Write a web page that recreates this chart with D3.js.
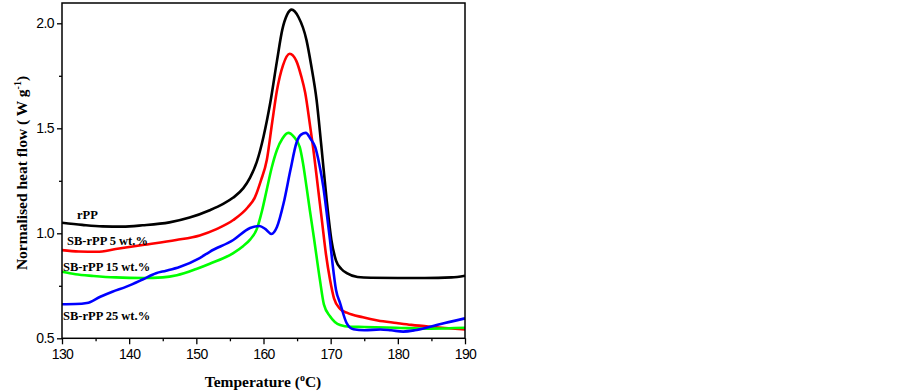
<!DOCTYPE html>
<html>
<head>
<meta charset="utf-8">
<script src="https://cdn.jsdelivr.net/npm/d3@7"></script>
<style>
body { margin: 0; background: #fff; }
.tick-label { font-family: "Liberation Sans", Arial, sans-serif; font-size: 14px; }
.title { font-family: "Liberation Serif", "Times New Roman", serif; font-weight: bold; font-size: 15.5px; }
.series-label { font-family: "Liberation Serif", "Times New Roman", serif; font-weight: bold; font-size: 12.5px; }
</style>
</head>
<body>
<div id="chart"></div>
<script>
// [temperature °C, normalised heat flow W/g]
const rpp = [[130,1.05],[133,1.04],[136,1.033],[139,1.032],[142,1.038],[146,1.052],[149,1.075],[152,1.11],[154,1.14],[155.5,1.17],[157,1.215],[158,1.265],[159,1.34],[160,1.46],[161,1.62],[162,1.82],[162.8,1.97],[163.5,2.04],[164.2,2.065],[165.2,2.03],[166.4,1.92],[167.1,1.8],[167.9,1.636],[168.6,1.42],[169.4,1.16],[170.1,0.97],[170.8,0.87],[171.6,0.83],[172.4,0.81],[174,0.792],[176,0.788],[180,0.787],[184,0.787],[188,0.79],[190,0.798]]

const sb5 = [[130,0.92],[132.5,0.913],[135.2,0.912],[138,0.925],[142,0.944],[147,0.968],[150.5,0.99],[153,1.02],[155.5,1.063],[157.7,1.125],[158.7,1.17],[159.6,1.25],[160.5,1.35],[161.3,1.53],[162,1.68],[162.9,1.8],[163.9,1.855],[164.9,1.82],[165.6,1.75],[166.2,1.67],[166.9,1.52],[167.5,1.38],[168.1,1.22],[168.7,1.06],[169.3,0.9],[169.9,0.78],[170.5,0.69],[171.4,0.64],[172.4,0.622],[174.8,0.6],[177,0.585],[179.8,0.573],[182,0.564],[184.8,0.555],[187,0.549],[190,0.542]]

const sb15 = [[130,0.817],[132,0.805],[134.7,0.797],[138,0.79],[142.1,0.787],[145,0.79],[147.1,0.8],[150,0.83],[152,0.855],[155.5,0.906],[157,0.94],[158,0.97],[159,1.02],[159.8,1.11],[160.5,1.21],[161.2,1.31],[162,1.397],[162.8,1.45],[163.7,1.478],[164.5,1.46],[165.4,1.41],[165.9,1.33],[166.4,1.222],[166.9,1.11],[167.5,0.98],[168.4,0.778],[169,0.66],[169.9,0.605],[171.4,0.563],[172.9,0.555],[175,0.554],[179.8,0.55],[184.8,0.546],[190,0.55]]

const sb25 = [[130,0.662],[132,0.663],[133.7,0.668],[135.7,0.698],[137.5,0.722],[139.6,0.746],[142,0.78],[144,0.81],[145.5,0.822],[147.5,0.84],[150.5,0.882],[152,0.912],[155.5,0.968],[158,1.025],[159.4,1.035],[160.3,1.02],[161.2,0.997],[162,1.03],[163,1.144],[164,1.3],[164.9,1.43],[165.6,1.47],[166.3,1.478],[167,1.45],[167.7,1.41],[168.3,1.33],[168.9,1.222],[169.4,1.1],[169.9,0.968],[170.3,0.85],[170.8,0.73],[171.4,0.668],[172.4,0.571],[173.4,0.543],[175,0.538],[177.4,0.542],[179,0.538],[180.8,0.532],[182.5,0.538],[184.8,0.555],[187,0.573],[190,0.595]]

const seriesNames = ['rPP', 'SB-rPP 5 wt.%', 'SB-rPP 15 wt.%', 'SB-rPP 25 wt.%']
const seriesColors = ['#000000', '#ff0000', '#00ff00', '#0000ff']
const xTicks = [130, 140, 150, 160, 170, 180, 190]
const xMinor = [135, 145, 155, 165, 175, 185]
const yTicks = [0.5, 1.0, 1.5, 2.0]
const yMinor = [0.75, 1.25, 1.75]

let width = 902
let height = 391
let plotLeft = 62, plotRight = 465, plotTop = 3, plotBottom = 338.3

let x = d3.scaleLinear().domain([130, 190]).range([plotLeft, plotRight])
let y = d3.scaleLinear().domain([0.5, 0.5 + (plotBottom - plotTop) / 210]).range([plotBottom, plotTop])

let svg = d3.select('#chart').append('svg')
	.attr('width', width)
	.attr('height', height)

let line = d3.line()
	.x(d => x(d[0]))
	.y(d => y(d[1]))
	.curve(d3.curveMonotoneX)

let linesGroup = svg.append('g')

;[rpp, sb5, sb15, sb25].forEach((s, i) => {
	linesGroup.append('path')
		.datum(s)
		.attr('d', line)
		.attr('fill', 'none')
		.attr('stroke', seriesColors[i])
		.attr('stroke-width', 2.6)
		.attr('stroke-linejoin', 'round')
})

// frame
svg.append('rect')
	.attr('x', plotLeft)
	.attr('y', plotTop)
	.attr('width', plotRight - plotLeft)
	.attr('height', plotBottom - plotTop)
	.attr('fill', 'none')
	.attr('stroke', '#000')
	.attr('stroke-width', 1.5)

svg.append('g')
	.attr('transform', `translate(0,${plotBottom})`)
	.call(d3.axisBottom(x).tickValues(xTicks).tickSize(6).tickPadding(5).tickFormat(d3.format('d')))

svg.append('g')
	.attr('transform', `translate(0,${plotBottom})`)
	.call(d3.axisBottom(x).tickValues(xMinor).tickSize(3).tickFormat(''))

svg.append('g')
	.attr('transform', `translate(${plotLeft},0)`)
	.call(d3.axisLeft(y).tickValues(yTicks).tickSize(5).tickPadding(3).tickFormat(d3.format('.1f')))

svg.append('g')
	.attr('transform', `translate(${plotLeft},0)`)
	.call(d3.axisLeft(y).tickValues(yMinor).tickSize(3).tickFormat(''))

svg.selectAll('.domain').remove()
svg.selectAll('.tick line').attr('stroke', '#000').attr('stroke-width', 1.3)
svg.selectAll('.tick text')
	.attr('class', 'tick-label')
	.attr('fill', '#000')
	.attr('letter-spacing', -0.6)
svg.selectAll('g').attr('font-size', null).attr('font-family', null)

// series labels
let labelPos = [[77, 219], [67, 245], [63, 271], [63, 320]]
seriesNames.forEach((n, i) => {
	svg.append('text')
		.attr('class', 'series-label')
		.attr('x', labelPos[i][0])
		.attr('y', labelPos[i][1])
		.text(n)
})

// axis titles
let xTitle = svg.append('text')
	.attr('class', 'title')
	.attr('x', 263)
	.attr('y', 387)
	.attr('text-anchor', 'middle')
xTitle.append('tspan').text('Temperature (')
xTitle.append('tspan').attr('dy', -6).style('font-size', '10px').text('o')
xTitle.append('tspan').attr('dy', 6).text('C)')

let yTitle = svg.append('text')
	.attr('class', 'title')
	.attr('transform', 'translate(27,173) rotate(-90)')
	.attr('text-anchor', 'middle')
yTitle.append('tspan').text('Normalised heat flow ( W g')
yTitle.append('tspan').attr('dy', -6).style('font-size', '10px').text('-1')
yTitle.append('tspan').attr('dy', 6).text(')')
</script>
</body>
</html>
